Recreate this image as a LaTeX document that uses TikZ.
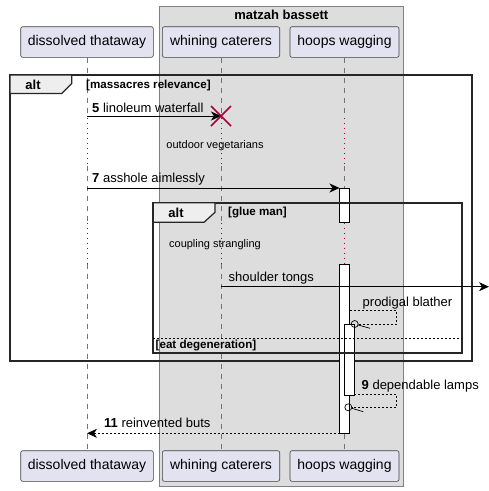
\documentclass[tikz,border=0pt]{standalone}
\usepackage{fontspec}
\setmainfont{Liberation Sans}
\usetikzlibrary{arrows.meta}
\definecolor{partfill}{HTML}{E2E2F0}
\definecolor{grpfill}{HTML}{DDDDDD}
\definecolor{tabfill}{HTML}{EEEEEE}
\definecolor{xred}{HTML}{A80036}
\tikzset{
	participant/.style={draw=black!75,fill=partfill,rounded corners=2pt,minimum height=30.6pt,line width=0.6pt,font=\fontsize{14}{16}\selectfont},
	lifeline/.style={draw=black!55,line width=0.6pt,dash pattern=on 5pt off 5pt},
	delayline/.style={draw=xred,line width=0.9pt,dash pattern=on 1pt off 4pt},
	activation/.style={draw=black,fill=white,line width=0.7pt},
	frameline/.style={draw=black!85,line width=1.8pt},
	tabshape/.style={draw=black!85,fill=tabfill,line width=1.2pt},
	msg/.style={line width=0.7pt,-{Stealth[length=10pt,width=9pt,inset=3pt]}},
	retmsg/.style={line width=0.7pt,dash pattern=on 2pt off 2pt},
	msglabel/.style={anchor=west,inner sep=0pt,font=\fontsize{13}{15}\selectfont},
	condlabel/.style={anchor=west,inner sep=0pt,font=\fontsize{11.6}{13}\selectfont\bfseries},
	delaytext/.style={inner sep=0pt,font=\fontsize{11}{13}\selectfont},
	ringend/.style={draw=black,fill=none,line width=0.7pt}
}
\begin{document}
\begin{tikzpicture}[x=1pt,y=-1pt]
	\useasboundingbox (0,0) rectangle (489,491);
	
	\fill[grpfill] (159.3,6) rectangle (403.3,486);
	\draw[black!50,line width=0.6pt] (159.3,6) rectangle (403.3,486);
	\node[inner sep=0pt,font=\fontsize{13}{15}\selectfont\bfseries] (grptitle) at (281.3,14.7) {matzah bassett};
	
	\node[participant,minimum width=132.6pt] (topdt) at (87,42) {dissolved thataway};
	\node[participant,minimum width=117.4pt] (topwc) at (221,42) {whining caterers};
	\node[participant,minimum width=109pt]   (tophw) at (344.5,42) {hoops wagging};
	\node[participant,minimum width=132.6pt] (botdt) at (87,466) {dissolved thataway};
	\node[participant,minimum width=117.4pt] (botwc) at (221,466) {whining caterers};
	\node[participant,minimum width=109pt]   (bothw) at (344.5,466) {hoops wagging};
	
	\coordinate (delayAtop) at (0,118);
	\coordinate (delayAbot) at (0,166);
	\coordinate (delayBtop) at (0,222.5);
	\coordinate (delayBbot) at (0,263.5);
	
	\foreach \p in {dt,wc,hw} {
		\draw[lifeline]  (top\p.south) -- (top\p |- delayAtop);
		\draw[delayline] (top\p |- delayAtop) -- (top\p |- delayAbot);
		\draw[lifeline]  (top\p |- delayAbot) -- (top\p |- delayBtop);
		\draw[delayline] (top\p |- delayBtop) -- (top\p |- delayBbot);
		\draw[lifeline]  (top\p |- delayBbot) -- (bot\p.north);
	}
	
	\draw[frameline] (10,75) rectangle (471.7,360.7);
	\draw[tabshape] (10,75) -- (71.7,75) -- (71.7,83.5) -- (61.7,93.5) -- (10,93.5) -- cycle;
	\node[inner sep=0pt,font=\fontsize{13}{15}\selectfont\bfseries] (altA) at (33,85) {alt};
	\node[condlabel] (condA) at (86,85) {[massacres relevance]};
	
	\draw[activation] (339.5,188) rectangle (349.5,222.5);
	\draw[activation] (339.5,264) rectangle (349.5,433.3);
	\draw[activation] (344.3,324) rectangle (354.3,395);
	
	\draw[frameline] (153.3,202.7) rectangle (461.7,353.3);
	\draw[tabshape] (153.3,202.7) -- (215,202.7) -- (215,212.3) -- (204,222.3) -- (153.3,222.3) -- cycle;
	\node[inner sep=0pt,font=\fontsize{13}{15}\selectfont\bfseries] (altB) at (176,213) {alt};
	\node[condlabel] (condB) at (228,213) {[glue man]};
	\draw[black,line width=0.7pt,dash pattern=on 2pt off 2pt] (153.3,338.3) -- (461.7,338.3);
	\node[condlabel] (condC) at (155.5,345.7) {[eat degeneration]};
	
	\coordinate (m5s) at (87,116);
	\coordinate (m5e) at (221,116);
	\coordinate (m7s) at (87,188);
	\coordinate (m7e) at (339.5,188);
	\coordinate (mst) at (221,286.7);
	\coordinate (msx) at (489,286.7);
	\coordinate (mpa) at (349.5,310.7);
	\coordinate (mpb) at (396.7,310.7);
	\coordinate (mpc) at (396.7,324);
	\coordinate (mpo) at (354.7,324);
	\coordinate (m9a) at (354.3,394.3);
	\coordinate (m9b) at (396.7,394.3);
	\coordinate (m9c) at (396.7,407.3);
	\coordinate (m9o) at (348.3,407.3);
	\coordinate (m11s) at (339.5,433.3);
	\coordinate (m11e) at (87,433.3);
	
	\draw[msg] (m5s) -- (m5e);
	\node[msglabel] (l5) at (92,107.7) {\textbf{5} linoleum waterfall};
	\draw[xred,line width=1.6pt] ([shift={(-10,-10)}]m5e) -- ([shift={(10,10)}]m5e)
		([shift={(-10,10)}]m5e) -- ([shift={(10,-10)}]m5e);
	\node[delaytext] (dA) at (215,146) {outdoor vegetarians};
	
	\draw[msg] (m7s) -- (m7e);
	\node[msglabel] (l7) at (92,179) {\textbf{7} asshole aimlessly};
	
	\node[delaytext] (dB) at (215,244.3) {coupling strangling};
	
	\draw[msg] (mst) -- (msx);
	\node[msglabel] (lst) at (228.5,277.7) {shoulder tongs};
	
	\draw[retmsg] (mpa) -- (mpb) -- (mpc) -- ([xshift=3.5pt]mpo);
	\draw[ringend] (mpo) circle (3.5pt);
	\draw[line width=0.7pt] ([shift={(3.5,1)}]mpo) -- ([shift={(15.3,4.3)}]mpo);
	\node[msglabel] (lpb) at (362.5,302.7) {prodigal blather};
	
	\draw[retmsg] (m9a) -- (m9b) -- (m9c) -- ([xshift=3.5pt]m9o);
	\draw[ringend] (m9o) circle (3.5pt);
	\draw[line width=0.7pt] ([shift={(3.5,1)}]m9o) -- ([shift={(15,4.4)}]m9o);
	\node[msglabel] (l9) at (361.5,385.7) {\textbf{9} dependable lamps};
	
	\draw[retmsg,-{Stealth[length=10pt,width=9pt,inset=3pt]}] (m11s) -- (m11e);
	\node[msglabel] (l11) at (104,423.3) {\textbf{11} reinvented buts};
	
\end{tikzpicture}
\end{document}
